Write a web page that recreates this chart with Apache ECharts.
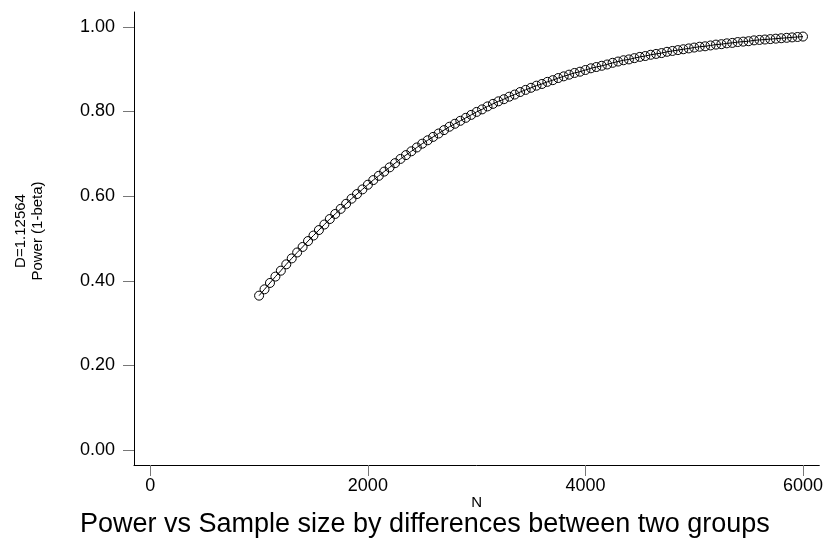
<!DOCTYPE html>
<html>
<head>
<meta charset="utf-8">
<script src="https://cdn.jsdelivr.net/npm/echarts@6/dist/echarts.min.js"></script>
<style>
  html, body { margin: 0; padding: 0; background: #fff; }
  #chart { width: 826px; height: 539px; }
</style>
</head>
<body>
<div id="chart"></div>
<script>
// Sample sizes (N)
const sampleSizes = [
  1000, 1050, 1100, 1150, 1200, 1250, 1300, 1350, 1400, 1450,
  1500, 1550, 1600, 1650, 1700, 1750, 1800, 1850, 1900, 1950,
  2000, 2050, 2100, 2150, 2200, 2250, 2300, 2350, 2400, 2450,
  2500, 2550, 2600, 2650, 2700, 2750, 2800, 2850, 2900, 2950,
  3000, 3050, 3100, 3150, 3200, 3250, 3300, 3350, 3400, 3450,
  3500, 3550, 3600, 3650, 3700, 3750, 3800, 3850, 3900, 3950,
  4000, 4050, 4100, 4150, 4200, 4250, 4300, 4350, 4400, 4450,
  4500, 4550, 4600, 4650, 4700, 4750, 4800, 4850, 4900, 4950,
  5000, 5050, 5100, 5150, 5200, 5250, 5300, 5350, 5400, 5450,
  5500, 5550, 5600, 5650, 5700, 5750, 5800, 5850, 5900, 5950,
  6000
];

// Power (1-beta) at each sample size
const powerValues = [
  0.365, 0.380, 0.395, 0.410, 0.424, 0.439, 0.453, 0.467, 0.480, 0.494,
  0.507, 0.520, 0.533, 0.546, 0.558, 0.570, 0.582, 0.594, 0.605, 0.616,
  0.627, 0.638, 0.648, 0.658, 0.668, 0.678, 0.688, 0.697, 0.706, 0.715,
  0.724, 0.732, 0.740, 0.748, 0.756, 0.764, 0.771, 0.778, 0.785, 0.792,
  0.799, 0.805, 0.812, 0.818, 0.824, 0.829, 0.835, 0.840, 0.846, 0.851,
  0.856, 0.861, 0.865, 0.870, 0.874, 0.879, 0.883, 0.887, 0.891, 0.894,
  0.898, 0.902, 0.905, 0.908, 0.911, 0.915, 0.918, 0.921, 0.923, 0.926,
  0.929, 0.931, 0.934, 0.936, 0.938, 0.941, 0.943, 0.945, 0.947, 0.949,
  0.951, 0.953, 0.954, 0.956, 0.958, 0.959, 0.961, 0.962, 0.964, 0.965,
  0.966, 0.968, 0.969, 0.970, 0.971, 0.972, 0.973, 0.974, 0.975, 0.976,
  0.977
];

// Tick positions
const xTicks = [0, 2000, 4000, 6000];
const yTicks = [0, 0.2, 0.4, 0.6, 0.8, 1.0];

const titleText = 'Power vs Sample size by differences between two groups';
const xName = 'N';
const yName = 'D=1.12564\nPower (1-beta)';

const FONT = '"Liberation Sans", Arial, Helvetica, sans-serif';

const chart = echarts.init(document.getElementById('chart'), null, { renderer: 'canvas' });

const points = sampleSizes.map((n, i) => [n, powerValues[i]]);

chart.setOption({
  animation: false,
  backgroundColor: '#ffffff',
  textStyle: { fontFamily: FONT },
  title: {
    text: titleText,
    left: 80,
    top: 511,
    padding: 0,
    textStyle: { fontFamily: FONT, fontSize: 27, fontWeight: 'normal', color: '#000' }
  },
  grid: { left: 134, right: 1, top: 12, bottom: 74 },
  xAxis: {
    type: 'value',
    min: -150,
    max: 6150,
    name: xName,
    nameLocation: 'middle',
    nameGap: 38,
    nameMoveOverlap: false,
    nameTextStyle: { fontFamily: FONT, fontSize: 15, color: '#000', verticalAlign: 'middle' },
    axisLine: { show: true, onZero: false, lineStyle: { color: '#000', width: 1 } },
    axisTick: { show: true, length: 11, lineStyle: { color: '#777', width: 1 }, customValues: xTicks },
    axisLabel: {
      customValues: xTicks,
      margin: 12,
      fontFamily: FONT,
      fontSize: 18,
      color: '#000',
      formatter: v => String(v)
    },
    splitLine: { show: false }
  },
  yAxis: {
    type: 'value',
    min: -0.035,
    max: 1.035,
    axisLine: { show: true, onZero: false, lineStyle: { color: '#000', width: 1 } },
    axisTick: { show: true, length: 11, lineStyle: { color: '#777', width: 1 }, customValues: yTicks },
    axisLabel: {
      customValues: yTicks,
      margin: 19,
      fontFamily: FONT,
      fontSize: 18,
      color: '#000',
      formatter: v => v.toFixed(2)
    },
    splitLine: { show: false }
  },
  graphic: [{
    type: 'text',
    x: 29,
    y: 231,
    rotation: Math.PI / 2,
    style: {
      text: yName,
      font: '15px ' + FONT,
      fill: '#000',
      align: 'center',
      verticalAlign: 'middle',
      lineHeight: 17
    }
  }],
  series: [{
    type: 'line',
    data: points,
    symbol: 'circle',
    symbolSize: 9,
    showAllSymbol: true,
    lineStyle: { color: '#000', width: 1 },
    itemStyle: { color: 'rgba(0,0,0,0)', borderColor: '#000', borderWidth: 1 }
  }]
});
</script>
</body>
</html>
